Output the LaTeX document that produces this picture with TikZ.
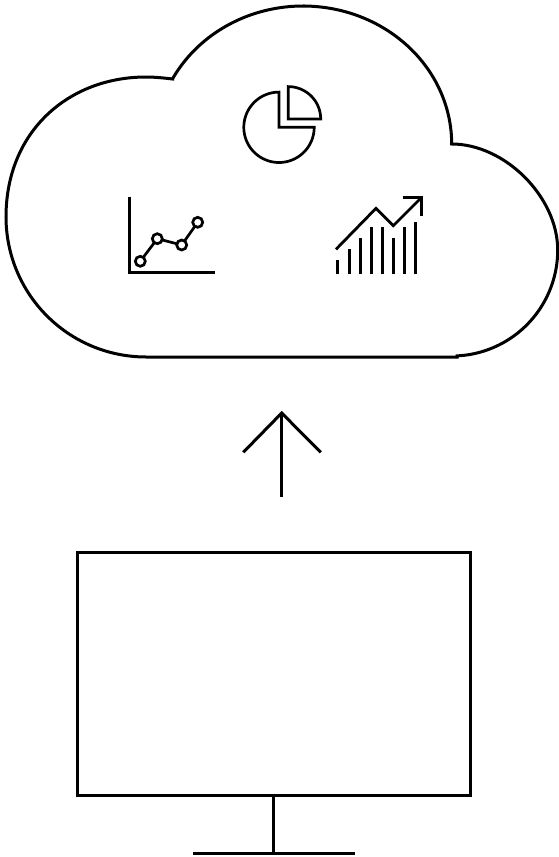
\documentclass[tikz,border=0pt]{standalone}
\tikzset{
  outline/.style={draw=black,line width=3pt,line join=miter,miter limit=10},
  icon/.style={draw=black,line width=2.7pt,line join=miter,miter limit=10},
  bar/.style={draw=black,line width=3pt},
  dot/.style={draw=black,fill=white,line width=2.7pt}
}
\begin{document}
\begin{tikzpicture}[x=1pt,y=-1pt]
\useasboundingbox[fill=white] (0,0) rectangle (559,857);
% cloud
\draw[outline]
  (172.7,79) .. controls (164,78) and (155,77) .. (146,77)
  .. controls (69,77) and (6,131) .. (6,217)
  -- plot[domain=180:270,samples=50] ({146+140*cos(\x)},{217-140*sin(\x)})
  -- (457,357) -- (457,355.9)
  -- plot[domain=-87:0,samples=50] ({452+105.7*cos(\x)},{250-106*sin(\x)})
  .. controls (557.7,197) and (505,144) .. (451.7,144)
  -- plot[domain=0:90,samples=50] ({303+148.7*cos(\x)},{144-138*sin(\x)})
  -- plot[domain=90:151.7,samples=40] ({303+148*cos(\x)},{144-138*sin(\x)})
  -- cycle;
% pie
\draw[icon] plot[domain=90:360,samples=70] ({279+35.2*cos(\x)},{127.3-35.2*sin(\x)}) -- (279,127.3) -- cycle;
\draw[icon] plot[domain=0:90,samples=30] ({288.3+32.4*cos(\x)},{119-32.4*sin(\x)}) -- (288.3,119) -- cycle;
% line chart
\draw[icon] (129.7,196.5) -- (129.7,272.5) -- (215,272.5);
\draw[icon] (140.3,261.3) -- (157.3,238.7) -- (181.7,245) -- (197.7,222.3);
\foreach \p in {(140.3,261.3),(157.3,238.7),(181.7,245),(197.7,222.3)}
  \draw[dot] \p circle[radius=5pt];
% bars
\foreach \bx/\by in {337.7/260.3,349/249.3,360/238,371/227,382.3/227,393.3/238,404.7/227,415.7/221.7}
  \draw[bar] (\bx,274.4) -- (\bx,\by);
\draw[icon,line width=2.8pt] (336,249.3) -- (376,208.3) -- (393.3,225.7) -- (421.7,197.3);
\draw[icon,line width=3pt] (402.7,197.3) -- (421.7,197.3) -- (421.7,216);
% arrow
\draw[outline] (281.7,497) -- (281.7,413);
\draw[outline] (243.3,452.3) -- (281.7,413) -- (320.7,452.3);
% monitor
\draw[outline] (77,552) rectangle (470.7,795);
\draw[outline] (273.7,795) -- (273.7,853);
\draw[outline] (193.3,853) -- (354.7,853);
\end{tikzpicture}
\end{document}
